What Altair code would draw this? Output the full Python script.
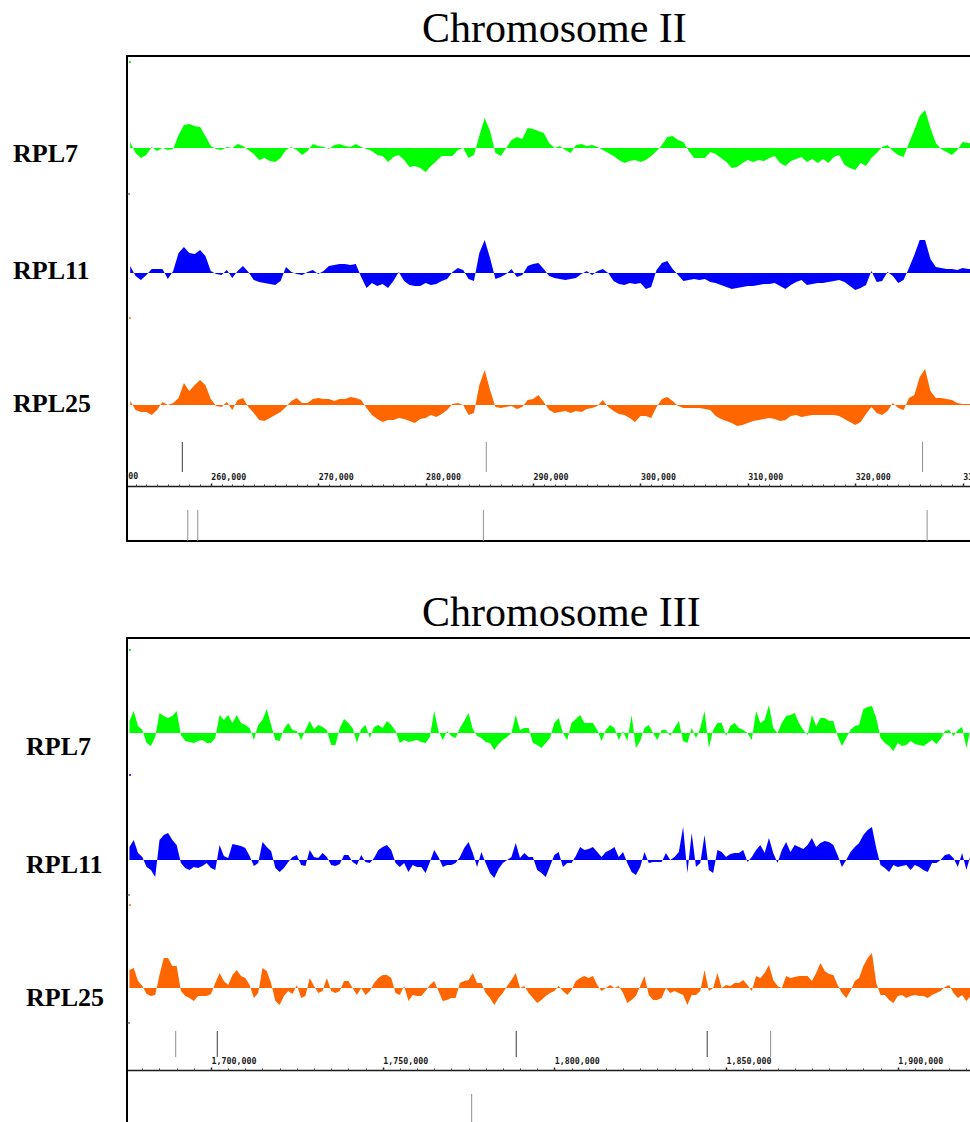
import altair as alt
import pandas as pd

# ---------------- Chromosome II window: signal in 500 bp bins ----------------
chr2_bin_start = 252500
chr2_bin_size = 500
chr2_rpl7 = [
    6, -5, -10, -7, 1, -3, 0, -2, -1, 13,
    23, 24, 22, 21, 12, 2, -1, -2, 1, 0,
    4, 2, -2, -6, -12, -10, -13, -14, -10, -2,
    1, -2, -7, -3, 4, 2, 1, -1, 3, 4,
    2, 1, 4, 1, -1, -3, -7, -8, -14, -9,
    -7, -12, -19, -18, -20, -24, -18, -13, -8, -8,
    -8, -2, 0, -10, -7, 12, 30, 17, -5, -8,
    0, 8, 11, 9, 20, 19, 17, 15, 5, 0,
    2, -2, -5, 3, 4, 2, 3, 1, -2, -5,
    -8, -12, -15, -13, -12, -14, -12, -8, -3, 3,
    11, 12, 8, 6, -3, -10, -10, -10, -4, -6,
    -10, -14, -20, -19, -15, -12, -14, -12, -13, -10,
    -8, -15, -18, -13, -11, -9, -14, -11, -15, -11,
    -15, -9, -7, -17, -20, -22, -15, -18, -10, -5,
    1, 3, -3, -7, -9, 5, 18, 32, 38, 20,
    5, -1, -4, -7, -2, 6, 5, 4, 4, 4,
]
chr2_rpl11 = [
    7, -3, -7, -2, 4, 4, 4, -6, 2, 20,
    26, 20, 19, 23, 17, 2, -1, -2, 3, -5,
    2, 7, 1, -7, -9, -10, -11, -12, -8, 6,
    1, -1, -2, 1, 3, -1, 2, 7, 8, 9,
    9, 8, 9, -4, -15, -10, -13, -11, -15, -8,
    1, -8, -12, -13, -13, -10, -12, -11, -8, -6,
    1, 5, 3, -6, -8, 20, 33, 15, -6, -4,
    -1, 4, -4, -2, 7, 9, 10, 4, -3, -5,
    -6, -7, -6, -5, -1, 2, -2, 2, 4, 0,
    -8, -11, -12, -10, -11, -10, -16, -14, 3, 10,
    12, 4, -2, -8, -7, -6, -7, -6, -9, -10,
    -12, -14, -16, -15, -14, -13, -13, -12, -11, -11,
    -10, -13, -16, -12, -9, -7, -12, -11, -10, -10,
    -9, -8, -7, -9, -13, -17, -15, -12, 2, -9,
    -8, 1, -3, -10, -7, 5, 18, 33, 33, 14,
    6, 5, 4, 4, 3, 5, 4, 4, 4, 4,
]
chr2_rpl25 = [
    4, -5, -7, -7, -10, -5, 3, 0, 2, 7,
    22, 14, 20, 25, 20, 6, -1, -2, 3, -5,
    5, 7, -2, -8, -15, -16, -13, -10, -7, -2,
    4, 7, 2, 2, 6, 7, 6, 6, 4, 6,
    6, 8, 7, 5, -3, -10, -14, -17, -15, -15,
    -13, -14, -16, -18, -14, -13, -10, -12, -9, -5,
    1, 2, 0, -10, -8, 20, 35, 15, -2, -3,
    -2, -1, -4, -2, 5, 6, 10, 3, -5, -8,
    -7, -6, -8, -6, -7, -4, -3, -1, 5, -2,
    -6, -9, -10, -13, -17, -11, -11, -13, -2, 6,
    8, 4, -1, -3, -3, -3, -3, -4, -5, -11,
    -14, -16, -18, -21, -20, -18, -16, -15, -14, -13,
    -14, -16, -15, -11, -10, -12, -11, -10, -10, -10,
    -10, -10, -11, -14, -17, -20, -17, -9, -2, -8,
    -10, -6, 2, -3, -5, 7, 10, 28, 36, 14,
    7, 7, 6, 5, 2, 1, 1, 1, 1, 1,
]
chr2_features_upper = [257350, 285650, 326260]
chr2_features_upper_kind = ["A", "B", "B"]
chr2_features_lower = [257860, 258790, 285380, 326690]
chr2_features_lower_kind = ["B", "B", "B", "B"]
chr2_major_ticks = [260000, 270000, 280000, 290000, 300000, 310000, 320000, 330000]
chr2_edge_label = 250000

# ---------------- Chromosome III window: signal in 1250 bp bins ----------------
chr3_bin_start = 1676250
chr3_bin_size = 1250
chr3_rpl7 = [
    12, 22, 7, 3, -10, -13, -4, 20, 17, 15,
    17, 22, -2, -8, -9, -10, -8, -7, -10, -10,
    -5, 18, 13, 18, 10, 18, 10, 8, 5, -7,
    8, 13, 24, 8, -7, -8, 4, 10, 3, 2,
    -7, 3, 12, 4, 8, 6, 3, -12, -12, 5,
    14, 10, 5, -10, 4, 8, -5, 6, 8, 5,
    12, 8, 2, -10, -7, -9, -8, -7, -9, -10,
    -4, 22, 2, -7, 2, -3, -5, 5, 12, 20,
    4, -3, -5, -9, -10, -17, -11, -7, -4, 0,
    18, 3, 5, 5, -10, -12, -15, -10, -5, 10,
    15, 0, -7, 10, 14, 18, 10, 10, 10, 3,
    -8, 3, 8, 5, -7, 2, -8, 18, -15, -8,
    5, 8, 0, -7, 3, 3, -3, 5, 12, -8,
    -10, 5, -5, 5, 22, -15, 3, 10, 10, -3,
    7, 10, 5, 3, 0, -7, 22, 10, 13, 28,
    5, 0, 10, 17, 18, 20, 10, 3, -2, 18,
    7, 15, 15, 12, 12, -3, -13, -5, 3, 7,
    8, 24, 26, 27, 15, -5, -10, -13, -18, -10,
    -13, -12, -8, -11, -12, -13, -10, -7, -11, -6,
    2, 3, -3, 3, 6, -15, 5, 3, 2,
]
chr3_rpl11 = [
    13, 20, 7, 3, -7, -10, -17, 20, 25, 27,
    20, 15, -3, -8, -10, -7, -8, -6, -3, -8,
    -10, 15, 4, 2, 16, 15, 14, 12, 4, -6,
    -3, 18, 13, 9, -8, -12, -8, -2, 3, 5,
    -5, -6, 10, 3, 2, 7, 3, -5, -6, -4,
    5, 5, -2, -5, 5, -2, -3, 2, 10, 13,
    15, 10, -3, -7, -3, -12, -5, -7, -7, -13,
    -2, 10, 3, -7, -5, -5, -3, 3, 12, 18,
    7, -7, 8, -3, -13, -18, -9, -3, 0, 3,
    17, 2, 7, 3, 3, -10, -13, -17, -6, 5,
    8, -7, -3, -3, 4, 13, 10, 11, 13, 8,
    3, 8, 10, 13, 3, 8, -3, -12, -15, -7,
    8, -3, -2, -2, -2, 7, 0, 3, 8, 33,
    -13, 27, -7, -3, 25, -10, -13, 10, 8, 3,
    6, 7, 7, 10, -2, 3, 10, 15, 7, 22,
    7, -3, 10, 18, 8, 15, 13, 11, 15, 22,
    13, 17, 19, 18, 15, 5, -7, 0, 8, 13,
    17, 25, 30, 33, 12, -5, -8, -12, -5, -7,
    -6, -5, -10, -5, -7, -10, -12, -3, -3, 0,
    5, 6, 2, -7, 7, -10, 5, 3, 2,
]
chr3_rpl25 = [
    18, 20, 7, 2, -6, -8, -7, 13, 30, 30,
    22, 22, -3, -8, -10, -13, -8, -8, -8, -6,
    5, 15, 7, 3, 13, 18, 12, 10, 3, -10,
    -5, 20, 17, 5, -13, -17, -8, -3, -6, 3,
    -10, -8, 10, 2, -5, -3, 10, -3, -5, -3,
    7, 7, 0, -7, 0, -7, -3, 5, 10, 13,
    13, 10, -5, -7, 2, -13, -7, -8, -8, -3,
    3, 7, -3, -13, -12, -10, -10, 5, 7, 8,
    15, 5, 5, -5, -10, -17, -10, -5, 2, 8,
    15, 0, 2, -5, -10, -15, -12, -8, -5, -3,
    2, -3, -7, -2, 7, 10, 12, 10, 12, 3,
    -3, 0, 3, 0, 2, -5, -15, -12, -8, 2,
    12, -7, -12, -12, -10, 0, -5, -3, -5, -7,
    -17, -7, -7, -3, 18, -3, 0, 15, 0, 3,
    2, 5, 5, 8, 3, -3, 12, 10, 15, 23,
    8, 2, 0, 12, 10, 11, 12, 12, 12, 7,
    15, 25, 17, 14, 13, 3, -5, -10, -3, 7,
    10, 22, 30, 35, 5, -7, -7, -12, -15, -8,
    -7, -10, -8, -7, -8, -8, -10, -7, -5, -3,
    1, 3, -5, -10, -7, -13, -8, -5, -5,
]
chr3_features_upper = [1689720, 1701830, 1788900, 1844520, 1862980]
chr3_features_upper_kind = ["B", "A", "A", "A", "B"]
chr3_features_lower = [1775920]
chr3_features_lower_kind = ["B"]
chr3_major_ticks = [1700000, 1750000, 1800000, 1850000, 1900000]

# ---------------- drawing ----------------
CANVAS_W, CANVAS_H = 970, 1122
FRAME_L, FRAME_R = 127, 979
AMP = 60
TRACKS = [("RPL7", "#00ff00"), ("RPL11", "#0000ff"), ("RPL25", "#ff6600")]
one_row = pd.DataFrame({"k": [0]})
kind_scale = alt.Scale(domain=["A", "B"], range=["#3c3c3c", "#909090"])
TICK_FONT = dict(font="DejaVu Sans Mono", fontSize=8.3, fontWeight="bold", color="#1a1a1a")


def signal_table(start, size, series):
    n = len(series[0])
    table = {"bp": [start + size * i for i in range(n)]}
    for (name, _), values in zip(TRACKS, series):
        table[name] = values
    return pd.DataFrame(table)


def panel(title, x_domain, signal, upper, upper_kind, lower, lower_kind,
          major, minor, lay):
    xs = alt.Scale(domain=x_domain, range=[FRAME_L, FRAME_R], nice=False, zero=False)
    layers = [
        alt.Chart(one_row).mark_rect(filled=False, color="black", strokeWidth=2).encode(
            x=alt.value(FRAME_L), x2=alt.value(FRAME_R),
            y=alt.value(lay["top"]), y2=alt.value(lay["bottom"]))
    ]
    for (name, color), base in zip(TRACKS, lay["track_base"]):
        ys = alt.Scale(domain=[-AMP, AMP], range=[base + AMP, base - AMP],
                       nice=False, zero=False)
        layers.append(
            alt.Chart(signal).mark_area(color=color).encode(
                x=alt.X("bp:Q", scale=xs, axis=None),
                y=alt.Y(f"{name}:Q", scale=ys, axis=None),
                y2=alt.datum(0),
            )
        )
    major_axis = alt.Axis(
        orient="top", offset=-lay["axis_y"], values=major, format=",d",
        labelFont=TICK_FONT["font"], labelFontSize=TICK_FONT["fontSize"],
        labelFontWeight="bold", labelColor=TICK_FONT["color"],
        labelAlign="left", labelPadding=2,
        labelFlush=False, labelOverlap=False, grid=False, title=None,
        tickSize=3, tickWidth=1.5, tickColor="#1a1a1a",
        domainColor="#1a1a1a", domainWidth=1.5,
    )
    minor_axis = alt.Axis(
        orient="top", offset=-lay["axis_y"], values=minor, labels=False,
        domain=False, grid=False, title=None, tickSize=2, tickWidth=1,
        tickColor="#444444",
    )
    layers.append(
        alt.Chart(pd.DataFrame({"bp": upper, "kind": upper_kind})).mark_rule(strokeWidth=1).encode(
            x=alt.X("bp:Q", scale=xs, axis=major_axis),
            y=alt.value(lay["upper"][0]), y2=alt.value(lay["upper"][1]),
            color=alt.Color("kind:N", scale=kind_scale, legend=None),
        )
    )
    layers.append(
        alt.Chart(pd.DataFrame({"bp": lower, "kind": lower_kind})).mark_rule(strokeWidth=1).encode(
            x=alt.X("bp:Q", scale=xs, axis=minor_axis),
            y=alt.value(lay["lower"][0]), y2=alt.value(lay["lower"][1]),
            color=alt.Color("kind:N", scale=kind_scale, legend=None),
        )
    )
    if lay.get("edge_label") is not None:
        # a tick label that starts left of the frame and is cut by it
        layers.append(
            alt.Chart(one_row).mark_text(
                text=f"{lay['edge_label']:,}", align="left", baseline="bottom", **TICK_FONT
            ).encode(
                x=alt.X(datum=lay["edge_label"], type="quantitative", scale=xs, axis=None),
                y=alt.value(lay["axis_y"] - 5),
            )
        )
        layers.append(
            alt.Chart(one_row).mark_rect(color="white").encode(
                x=alt.value(60), x2=alt.value(FRAME_L - 1),
                y=alt.value(lay["axis_y"] - 18), y2=alt.value(lay["axis_y"] + 3))
        )
    for ty in lay["edge_ticks"]:
        layers.append(
            alt.Chart(one_row).mark_rule(color="#333333", strokeWidth=1).encode(
                x=alt.value(FRAME_L), x2=alt.value(FRAME_L + 3), y=alt.value(ty))
        )
    for ty, c in lay["edge_specks"]:
        layers.append(
            alt.Chart(one_row).mark_rule(color=c, strokeWidth=1.5).encode(
                x=alt.value(FRAME_L + 2), x2=alt.value(FRAME_L + 4), y=alt.value(ty))
        )
    layers.append(
        alt.Chart(one_row).mark_text(
            text=title, font="Liberation Serif", fontSize=42, align="left",
            baseline="alphabetic", color="black",
        ).encode(x=alt.value(lay["title_x"]), y=alt.value(lay["title_y"]))
    )
    for (name, _), ly in zip(TRACKS, lay["label_y"]):
        layers.append(
            alt.Chart(one_row).mark_text(
                text=name, font="Liberation Serif", fontSize=26, fontWeight="bold",
                align="left", baseline="alphabetic", color="black",
            ).encode(x=alt.value(lay["label_x"]), y=alt.value(ly))
        )
    return layers


chr2_signal = signal_table(chr2_bin_start, chr2_bin_size, [chr2_rpl7, chr2_rpl11, chr2_rpl25])
chr3_signal = signal_table(chr3_bin_start, chr3_bin_size, [chr3_rpl7, chr3_rpl11, chr3_rpl25])

layers_ii = panel(
    "Chromosome II", [252200, 331520], chr2_signal,
    chr2_features_upper, chr2_features_upper_kind,
    chr2_features_lower, chr2_features_lower_kind,
    chr2_major_ticks, list(range(253000, 332000, 1000)),
    {
        "top": 56, "bottom": 541, "axis_y": 486,
        "track_base": [148, 273, 405],
        "upper": (442, 472), "lower": (510, 541),
        "label_x": 13, "label_y": [162, 279, 412],
        "title_x": 422, "title_y": 42,
        "edge_ticks": [194],
        "edge_specks": [(62, "#00cc00"), (318, "#ff6600")],
        "edge_label": chr2_edge_label,
    },
)
layers_iii = panel(
    "Chromosome III", [1675539, 1923675], chr3_signal,
    chr3_features_upper, chr3_features_upper_kind,
    chr3_features_lower, chr3_features_lower_kind,
    chr3_major_ticks, list(range(1680000, 1925000, 5000)),
    {
        "top": 638, "bottom": 1125, "axis_y": 1070,
        "track_base": [733, 860, 988],
        "upper": (1031, 1057), "lower": (1094, 1125),
        "label_x": 26, "label_y": [755, 873, 1006],
        "title_x": 422, "title_y": 626,
        "edge_ticks": [895, 1023],
        "edge_specks": [(650, "#00cc00"), (775, "#0000ff"), (905, "#ff6600")],
        "edge_label": None,
    },
)

chart = (
    alt.layer(*layers_ii, *layers_iii)
    .resolve_scale(x="independent", y="independent")
    .resolve_axis(x="independent", y="independent")
    .properties(
        width=CANVAS_W, height=CANVAS_H,
        autosize=alt.AutoSizeParams(type="none"), padding=0,
    )
    .configure_view(strokeWidth=0)
)

chart.save("out.html", embed_options={"renderer": "svg", "actions": False})
